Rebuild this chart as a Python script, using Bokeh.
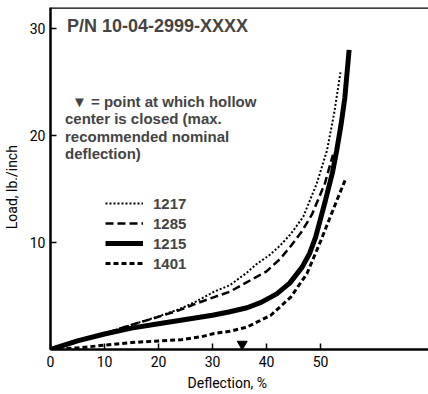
from bokeh.plotting import figure
from bokeh.models import Range1d, FixedTicker, Label, Span, Legend, LegendItem
from bokeh.embed import file_html
from bokeh.resources import INLINE

# ---- data ----
x_1217 = [0, 5, 10, 15, 20, 24, 27, 30.3, 33.2, 36.4, 38.2, 40.5, 42.5, 44.5, 46.8, 49.3, 51.2, 52.5, 53.7]
y_1217 = [0, 0.8, 1.5, 2.3, 3.1, 3.8, 4.5, 5.4, 6.0, 7.2, 8.0, 8.8, 9.7, 10.8, 12.4, 15.5, 18.6, 22.0, 25.9]

x_1285 = [0, 5, 10, 15, 20, 24, 27, 30.3, 33.2, 36.4, 40, 42.6, 44.4, 46.5, 48.4, 50.8, 52.3]
y_1285 = [0, 0.8, 1.5, 2.3, 3.05, 3.7, 4.3, 4.9, 5.4, 6.3, 7.3, 8.5, 9.6, 11.0, 12.6, 15.5, 18.2]

x_1215 = [0, 5, 10, 15, 20, 25, 30, 33, 36.4, 39, 41.9, 44.3, 46.6, 48, 49.1, 50.9, 52.2, 53.0, 53.8, 54.5, 55.3]
y_1215 = [0, 0.8, 1.45, 2.0, 2.4, 2.8, 3.2, 3.5, 3.9, 4.4, 5.2, 6.2, 7.7, 9.0, 10.5, 13.9, 16.5, 18.6, 21.0, 23.5, 28.0]

x_1401 = [0, 5, 10, 15, 20, 24, 28, 30.3, 33.2, 36.4, 40.8, 44.5, 47.5, 50, 53, 54.7]
y_1401 = [0, 0.15, 0.4, 0.65, 0.8, 0.9, 1.2, 1.5, 1.7, 2.1, 3.2, 4.9, 7.1, 10.1, 13.9, 16.0]

closed_x = [35.5]
closed_y = [0.5]

x_ticks = [0, 10, 20, 30, 40, 50]
y_ticks = [10, 20, 30]

title_text = "P/N 10-04-2999-XXXX"
note_lines = ["\u25BC = point at which hollow", "center is closed (max.",
              "recommended nominal", "deflection)"]
x_title = "Deflection, %"
y_title = "Load, lb./inch"

TICK_FONT = "Roboto"
BOLD_FONT = "Liberation Sans"
NB = "\u00a0"

p = figure(width=428, height=394, output_backend="svg", toolbar_location=None,
           x_range=Range1d(0, 70), y_range=Range1d(0, 31.96),
           min_border_left=50, min_border_right=0, min_border_top=7, min_border_bottom=45)
p.outline_line_color = None
p.xgrid.visible = False
p.ygrid.visible = False
p.background_fill_color = "white"
p.border_fill_color = "white"

for ax in (p.xaxis[0], p.yaxis[0]):
    ax.axis_line_width = 2.5
    ax.axis_line_color = "black"
    ax.major_tick_line_color = "black"
    ax.major_tick_line_width = 1.5
    ax.major_tick_out = 0
    ax.major_tick_in = 6
    ax.minor_tick_line_color = None
    ax.major_label_text_font = TICK_FONT
    ax.major_label_text_font_size = "14px"
    ax.major_label_text_color = "black"
    ax.axis_label_text_font = TICK_FONT
    ax.axis_label_text_font_size = "14px"
    ax.axis_label_text_font_style = "normal"
    ax.axis_label_text_color = "black"

p.xaxis[0].ticker = FixedTicker(ticks=x_ticks)
p.yaxis[0].ticker = FixedTicker(ticks=y_ticks)
p.xaxis[0].major_label_standoff = 6
p.yaxis[0].major_label_standoff = 5
p.xaxis[0].axis_label = x_title + NB * 7
p.yaxis[0].axis_label = y_title + NB * 5
p.xaxis[0].axis_label_standoff = 5
p.yaxis[0].axis_label_standoff = 7

# top border
p.add_layout(Span(location=31.96, dimension="width", line_color="black", line_width=2.5))

r1217 = p.line(x_1217, y_1217, line_color="black", line_width=2, line_dash="2 2")
r1285 = p.line(x_1285, y_1285, line_color="black", line_width=2.5, line_dash="8 4")
r1215 = p.line(x_1215, y_1215, line_color="black", line_width=5)
r1401 = p.line(x_1401, y_1401, line_color="black", line_width=3, line_dash="5 3")

p.scatter(closed_x, closed_y, marker="inverted_triangle", size=10, color="black")

legend = Legend(items=[LegendItem(label="1217", renderers=[r1217]),
                       LegendItem(label="1285", renderers=[r1285]),
                       LegendItem(label="1215", renderers=[r1215]),
                       LegendItem(label="1401", renderers=[r1401])],
                location=(55, 76), glyph_width=38, glyph_height=20, label_height=20,
                spacing=0, padding=0, margin=0, label_standoff=10,
                border_line_color=None, background_fill_alpha=0,
                label_text_font=BOLD_FONT, label_text_font_style="bold",
                label_text_font_size="15px")
p.add_layout(legend)

def px2x(px):
    return (px - 50.5) / 5.4

def py2y(py):
    return (349 - py) / 10.7

p.add_layout(Label(x=px2x(67), y=py2y(26), text=title_text, text_font=BOLD_FONT,
                   text_font_style="bold", text_font_size="18px",
                   text_baseline="middle", text_align="left"))

note_y = [101, 118, 136, 153]
note_x = [72, 65, 65, 65]
for t, nx, ny in zip(note_lines, note_x, note_y):
    p.add_layout(Label(x=px2x(nx), y=py2y(ny), text=t, text_font=BOLD_FONT,
                       text_font_style="bold", text_font_size="15px",
                       text_baseline="middle", text_align="left"))

open("out.html", "w").write(file_html(p, INLINE))
